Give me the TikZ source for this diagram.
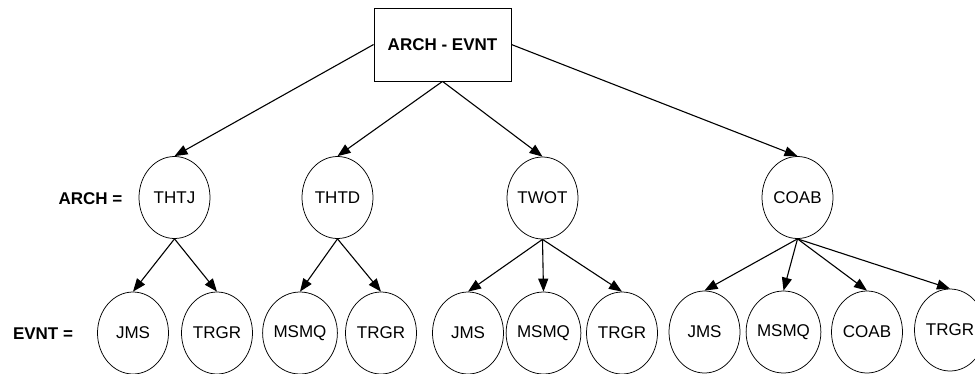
\documentclass[tikz,border=0pt]{standalone}
\usepackage{fontspec}
\setmainfont{Liberation Sans}
\usetikzlibrary{shapes.geometric,arrows.meta}

\tikzset{
  lbl/.style={font=\fontsize{17}{20}\selectfont},
  hdr/.style={font=\fontsize{17}{20}\selectfont\bfseries},
  rootbox/.style={draw, line width=0.8pt, minimum width=137pt, minimum height=73pt,
                  inner sep=0pt, hdr},
  oval/.style={draw, ellipse, line width=0.75pt, minimum width=71pt, minimum height=82pt,
               inner sep=0pt, lbl},
  link/.style={line width=1.1pt, -{Triangle[length=13pt,width=10pt]}}
}

\begin{document}
\begin{tikzpicture}[x=1pt,y=-1pt]
  \useasboundingbox (0,0) rectangle (975,373);
  \clip (0,0) rectangle (975,373);

  % root
  \node[rootbox] (root) at (442.5,44.5) {ARCH - EVNT};

  % row labels
  \node[hdr] (archlbl) at (90.5,199) {ARCH =};
  \node[hdr] (evntlbl) at (43,334) {EVNT =};

  % ARCH level
  \node[oval] (thtj) at (174.5,197.5) {THTJ};
  \node[oval] (thtd) at (337.5,197.5) {THTD};
  \node[oval] (twot) at (542.5,198) {TWOT};
  \node[oval] (coab) at (797.5,197.5) {COAB};

  % EVNT level
  \node[oval] (jmsA)  at (133,333) {JMS};
  \node[oval] (trgrA) at (217,333) {TRGR};
  \node[oval, minimum width=62pt] (msmqB) at (300,333) {MSMQ};
  \node[oval] (trgrB) at (381,333) {TRGR};
  \node[oval] (jmsC)  at (468,333) {JMS};
  \node[oval] (msmqC) at (543.5,333) {MSMQ};
  \node[oval] (trgrC) at (622,333) {TRGR};
  \node[oval] (jmsD)  at (704.5,332) {JMS};
  \node[oval] (msmqD) at (783.5,332) {MSMQ};
  \node[oval] (coabD) at (867,332) {COAB};
  \node[oval] (trgrD) at (950,330) {TRGR};

  % root to ARCH
  \draw[link] (root.west)  -- (thtj.north);
  \draw[link] (root.south) -- (thtd.north);
  \draw[link] (root.south) -- (twot.north);
  \draw[link] (root.east)  -- (coab.north);

  % ARCH to EVNT
  \draw[link] (thtj.south) -- (jmsA.north);
  \draw[link] (thtj.south) -- (trgrA.north);
  \draw[link] (thtd.south) -- (msmqB.north);
  \draw[link] (thtd.south) -- (trgrB.north);
  \draw[link] (twot.south) -- (jmsC.north);
  \draw[link] (twot.south) -- (msmqC.north);
  \draw[link] (twot.south) -- (trgrC.north);
  \draw[link] (coab.south) -- (jmsD.north);
  \draw[link] (coab.south) -- (msmqD.north);
  \draw[link] (coab.south) -- (coabD.north);
  \draw[link] (coab.south) -- (trgrD.north);
\end{tikzpicture}
\end{document}
